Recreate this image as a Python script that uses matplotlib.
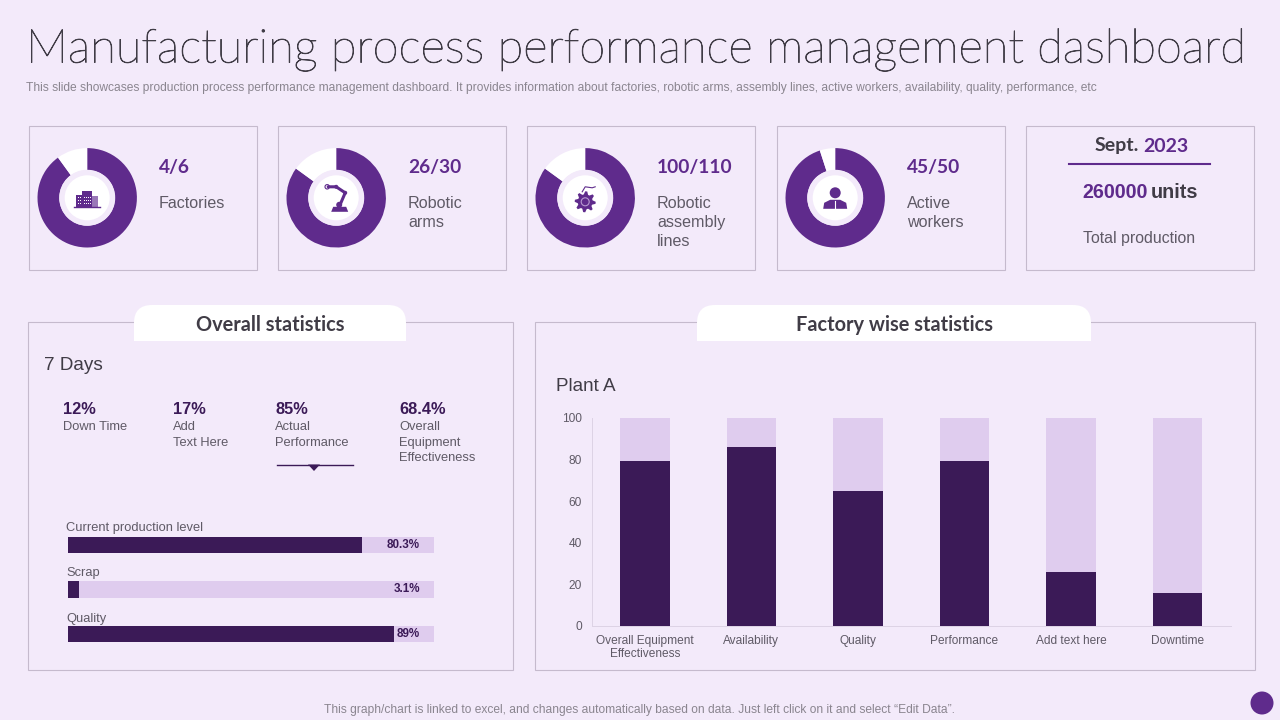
"""
Manufacturing process performance dashboard slide.
Everything outside the two bar charts and the donuts is placed in pixel coordinates.
"""

import matplotlib.patheffects as pe
import matplotlib.pyplot as plt
import numpy as np
from matplotlib.patches import Circle, PathPatch, Polygon, Rectangle
from matplotlib.path import Path

BG = "#F3EAFA"
PURPLE = "#5F2B8C"
DARK = "#3B1A57"
LIGHT = "#DFCCEE"
BORDER = "#C5BACD"
INK = "#403C46"
LABEL = "#5F5A66"
MUTED = "#8A858F"

plt.rcParams["font.family"] = ["Liberation Sans", "DejaVu Sans"]

TITLE = "Manufacturing process performance management dashboard"
SUBTITLE = (
    "This slide showcases production process performance management dashboard. It provides "
    "information about factories, robotic arms, assembly lines, active workers, availability, "
    "quality, performance, etc"
)
FOOTER = "This graph/chart is linked to excel, and changes automatically based on data. Just left click on it and select “Edit Data”."

# KPI cards
CARD_VALUES = ["4/6", "26/30", "100/110", "45/50"]
CARD_LABELS = ["Factories", "Robotic\narms", "Robotic\nassembly\nlines", "Active\nworkers"]
DONUT_FILLED = [90, 85, 85, 95]
DONUT_REST = [10, 15, 15, 5]

# Overall statistics
STAT_VALUES = ["12%", "17%", "85%", "68.4%"]
STAT_LABELS = ["Down Time", "Add\nText Here", "Actual\nPerformance", "Overall\nEquipment\nEffectiveness"]
LEVEL_NAMES = ["Current production level", "Scrap", "Quality"]
LEVEL_VALUES = [80.3, 3.1, 89]
LEVEL_TEXT = ["80.3%", "3.1%", "89%"]

# Factory wise statistics
FACTORY_CATS = ["Overall Equipment\nEffectiveness", "Availability", "Quality", "Performance", "Add text here", "Downtime"]
FACTORY_VALUES = [79, 86, 65, 79, 26, 16]
FACTORY_TICKS = [0, 20, 40, 60, 80, 100]

W, H = 1280, 720


def axes_px(fig, x0, y0, x1, y1):
    # pixel box measured from the top left of the slide
    return fig.add_axes([x0 / W, 1 - y1 / H, (x1 - x0) / W, (y1 - y0) / H])


def box(ax, x0, y0, x1, y1):
    ax.add_patch(Rectangle((x0, y0), x1 - x0, y1 - y0, fc="none", ec=BORDER, lw=0.8))


def tab(ax, x0, x1, y0, y1, r):
    verts = [(x0, y1), (x0, y0 + r), (x0, y0), (x0 + r, y0), (x1 - r, y0), (x1, y0), (x1, y0 + r), (x1, y1), (x0, y1)]
    codes = [Path.MOVETO, Path.LINETO, Path.CURVE3, Path.CURVE3, Path.LINETO, Path.CURVE3, Path.CURVE3, Path.LINETO, Path.CLOSEPOLY]
    ax.add_patch(PathPatch(Path(verts, codes), fc="white", ec="none"))


def icon_building(ax, cx, cy):
    ax.add_patch(Rectangle((cx - 11, cy - 4), 6, 12, fc=PURPLE, ec="none"))
    ax.add_patch(Rectangle((cx - 5, cy - 8), 10, 16, fc=PURPLE, ec="none"))
    ax.add_patch(Rectangle((cx + 5, cy - 3), 6, 11, fc="#9A78B8", ec="none"))
    for wx in [cx - 9, cx - 7, cx - 3, cx - 1, cx + 1, cx + 3]:
        for wy in [cy - 2, cy + 1, cy + 4]:
            ax.add_patch(Rectangle((wx, wy), 1, 1.4, fc="white", ec="none"))
    ax.plot([cx - 13, cx + 13], [cy + 8.5, cy + 8.5], color=PURPLE, lw=1)


def icon_robot(ax, cx, cy):
    ax.add_patch(Polygon([(cx - 5, cy + 14), (cx + 12, cy + 14), (cx + 10, cy + 9), (cx - 3, cy + 9)], fc=PURPLE, ec="none"))
    ax.plot([cx + 3, cx + 9, cx, cx - 8], [cy + 9, cy - 5, cy - 11, cy - 11], color=PURPLE, lw=2.2, solid_capstyle="round")
    for px, py, r in [(cx + 3, cy + 7, 3), (cx + 9, cy - 5, 2), (cx, cy - 11, 2)]:
        ax.add_patch(Circle((px, py), r, fc=PURPLE, ec="none"))
    ax.add_patch(Circle((cx - 9, cy - 11), 2.2, fc="white", ec=PURPLE, lw=0.8))


def icon_gear(ax, cx, cy):
    n = 8
    ang = np.linspace(0, 2 * np.pi, n * 4, endpoint=False)
    rad = np.tile([10.5, 10.5, 7.5, 7.5], n)
    ax.add_patch(Polygon(np.c_[cx + rad * np.cos(ang), cy + 4 + rad * np.sin(ang)], fc=PURPLE, ec="none"))
    ax.add_patch(Circle((cx, cy + 4), 4, fc="none", ec="#B79AD0", lw=0.8))
    ax.plot([cx - 3, cx, cx + 7, cx + 10], [cy - 6, cy - 11, cy - 10, cy - 11], color=PURPLE, lw=0.8)


def icon_person(ax, cx, cy):
    ax.add_patch(Circle((cx, cy - 5), 5.5, fc=PURPLE, ec="none"))
    body = [(cx - 12, cy + 11), (cx - 11, cy + 5), (cx - 5, cy + 2), (cx + 5, cy + 2), (cx + 11, cy + 5), (cx + 12, cy + 11)]
    ax.add_patch(Polygon(body, fc=PURPLE, ec="none"))
    ax.plot([cx, cx], [cy + 3, cy + 10], color="white", lw=0.8)


def main():
    fig = plt.figure(figsize=(12.8, 7.2), dpi=100, facecolor=BG)

    # overlay in slide pixels, sits above the chart axes
    ov = fig.add_axes([0, 0, 1, 1], zorder=5)
    ov.set_xlim(0, W)
    ov.set_ylim(H, 0)
    ov.axis("off")

    title = ov.text(26, 50, TITLE, fontsize=33.9, family="Lato", weight="light", color=INK, va="center")
    title.set_path_effects([pe.withStroke(linewidth=0.6, foreground=INK)])
    ov.text(26, 88, SUBTITLE, fontsize=8.65, color=MUTED, va="center")
    ov.text(639.5, 710, FOOTER, fontsize=8.64, color=MUTED, va="center", ha="center")
    ov.add_patch(Circle((1262, 703), 11.5, fc=PURPLE, ec="none"))

    # KPI cards
    card_left = [29, 278, 527, 777]
    icons = [icon_building, icon_robot, icon_gear, icon_person]
    for i, left in enumerate(card_left):
        box(ov, left, 126, left + 227.5, 270)
        cx, cy = left + 58.2, 197.8
        dax = axes_px(fig, cx - 49.7, cy - 49.7, cx + 49.7, cy + 49.7)
        dax.pie(
            [DONUT_FILLED[i], DONUT_REST[i]],
            colors=[PURPLE, "white"],
            startangle=90,
            counterclock=False,
            radius=1,
            wedgeprops={"width": 0.44},
        )
        dax.set_xlim(-1, 1)
        dax.set_ylim(-1, 1)
        ov.add_patch(Circle((cx, cy), 28, fc=BG, ec="none"))
        ov.add_patch(Circle((cx, cy), 22.5, fc="white", ec="none"))
        icons[i](ov, cx, cy + (1 if i == 0 else 0))
        ov.text(left + 130, 167.5, CARD_VALUES[i], fontsize=13.8, family="Lato", weight="bold", color=PURPLE, va="center")
        ov.text(left + 130, 196.5, CARD_LABELS[i], fontsize=11.6, color=LABEL, va="top", linespacing=1.33)

    # production card
    box(ov, 1026, 126, 1253.5, 270)
    ov.text(1139, 146, "Sept.", fontsize=14, family="Lato", weight="bold", color=INK, va="center", ha="right")
    ov.text(1143, 146, "2023", fontsize=14, family="Lato", weight="bold", color=PURPLE, va="center")
    ov.plot([1069, 1210], [163.7, 163.7], color=PURPLE, lw=1.5)
    ov.text(1148, 192, "260000", fontsize=14.2, weight="bold", color=PURPLE, va="center", ha="right")
    ov.text(1151, 192, "units", fontsize=14.2, weight="bold", color=INK, va="center")
    ov.text(1139.5, 239, "Total production", fontsize=11.4, color=LABEL, va="center", ha="center")

    # overall statistics panel
    box(ov, 28.2, 322.2, 512.8, 670.2)
    tab(ov, 134, 406, 305, 341, 18)
    ov.text(270.5, 325, "Overall statistics", fontsize=14.4, family="Lato", weight="bold", color=INK, va="center", ha="center")
    ov.text(44, 365, "7 Days", fontsize=13.6, color=INK, va="center")
    stat_x = [63, 173, 275, 399]
    for x, val, lab in zip(stat_x, STAT_VALUES, STAT_LABELS):
        ov.text(x, 410, val, fontsize=11.8, weight="bold", color=DARK, va="center")
        ov.text(x, 421, lab, fontsize=9.3, color=LABEL, va="top", linespacing=1.4)
    ov.plot([277, 353], [464.5, 464.5], color=DARK, lw=1)
    ov.add_patch(Polygon([(308, 464.5), (320, 464.5), (314, 471)], fc=DARK, ec="none"))

    lax = axes_px(fig, 68, 523, 434, 656)
    ypos = np.arange(len(LEVEL_VALUES))
    lax.barh(ypos, [100] * len(ypos), height=0.37, color=LIGHT)
    lax.barh(ypos, LEVEL_VALUES, height=0.37, color=DARK)
    lax.set_xlim(0, 100)
    lax.set_ylim(2.5, -0.5)
    lax.axis("off")
    for y, txt in zip(ypos, LEVEL_TEXT):
        lax.text(96.2, y, txt, fontsize=8.4, weight="bold", color=DARK, va="center", ha="right")
    for y, name in zip([528, 573, 619], LEVEL_NAMES):
        ov.text(66, y, name, fontsize=9.3, color=LABEL, va="center")

    # factory wise statistics panel
    box(ov, 535.2, 322.2, 1254.8, 670.2)
    tab(ov, 697, 1091, 305, 341, 18)
    ov.text(894, 325, "Factory wise statistics", fontsize=14.4, family="Lato", weight="bold", color=INK, va="center", ha="center")
    ov.text(556, 386.5, "Plant A", fontsize=13.6, color=INK, va="center")

    bax = axes_px(fig, 591.5, 417.7, 1231, 626)
    bax.patch.set_alpha(0)
    xpos = np.arange(len(FACTORY_CATS))
    rest = [100 - v for v in FACTORY_VALUES]
    bax.bar(xpos, FACTORY_VALUES, width=0.465, color=DARK)
    bax.bar(xpos, rest, bottom=FACTORY_VALUES, width=0.465, color=LIGHT)
    bax.set_xlim(-0.5, 5.5)
    bax.set_ylim(0, 100)
    bax.set_xticks(xpos)
    bax.set_xticklabels(FACTORY_CATS, fontsize=8.6, color=LABEL, linespacing=1.1)
    bax.set_yticks(FACTORY_TICKS)
    bax.tick_params(axis="y", labelsize=8.6, labelcolor=LABEL, length=0, pad=7)
    bax.tick_params(axis="x", length=0, pad=6.3)
    for side in ["top", "right"]:
        bax.spines[side].set_visible(False)
    for side in ["left", "bottom"]:
        bax.spines[side].set_color("#DDD3E5")
        bax.spines[side].set_linewidth(0.7)

    fig.savefig("out.png", dpi=100, facecolor=BG)
    plt.close(fig)


if __name__ == "__main__":
    main()
